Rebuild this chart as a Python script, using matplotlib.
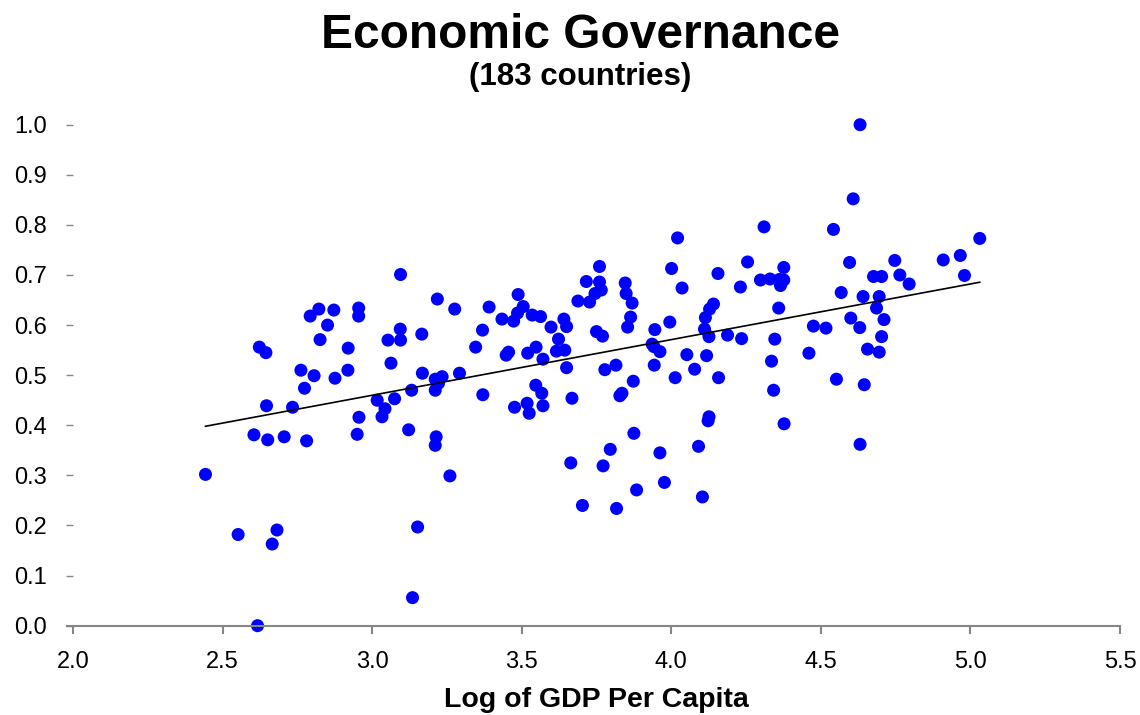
import numpy as np
import matplotlib
matplotlib.use("Agg")
import matplotlib.pyplot as plt

plt.rcParams['font.family'] = ['Liberation Sans', 'DejaVu Sans']

# Log of GDP per capita and economic governance score, one entry per country
log_gdp = [
    2.443, 2.552, 2.617, 2.682, 2.666, 2.822, 2.793, 2.872, 2.955, 2.955,
    2.851, 2.826, 2.623, 2.645, 2.920, 2.762, 2.806, 2.876, 2.919, 2.774,
    2.647, 2.734, 2.956, 2.605, 2.651, 2.706, 2.781, 2.950,
    3.095, 3.218, 3.276, 3.391, 3.488, 3.505, 3.486, 3.473, 3.434, 3.535,
    3.563, 3.598, 3.641, 3.094, 3.053, 3.095, 3.166, 3.369, 3.346, 3.448,
    3.456, 3.520, 3.548, 3.623, 3.616, 3.644, 3.571, 3.650, 3.063, 3.168,
    3.211, 3.234, 3.222, 3.211, 3.292, 3.132, 3.017, 3.075, 3.043, 3.033,
    3.370, 3.547, 3.567, 3.571, 3.476, 3.518, 3.525, 3.668, 3.122, 3.214,
    3.211, 3.260, 3.664, 3.152, 3.135,
    4.021, 3.760, 3.716, 3.760, 3.766, 3.745, 3.688, 3.727, 3.846, 3.849,
    3.869, 3.864, 3.854, 4.001, 4.036, 4.156, 4.255, 4.231, 4.141, 4.128,
    4.114, 4.111, 4.126, 4.188, 4.235, 3.650, 3.750, 3.770, 3.945, 3.995,
    3.936, 3.942, 3.962, 3.778, 3.815, 3.943, 4.052, 4.118, 4.078, 4.013,
    4.158, 3.873, 3.835, 3.828, 4.126, 4.123, 3.875,
    3.796, 3.772, 3.962, 4.091, 3.977, 3.884, 4.104, 3.703, 3.817,
    4.631, 4.608, 4.310, 4.542, 4.376, 4.596, 4.747, 4.909, 4.764, 4.676,
    4.703, 4.298, 4.330, 4.361, 4.376, 4.365, 4.795, 4.568, 4.641, 4.695,
    4.686, 4.359, 4.711, 4.600, 4.630, 4.475, 4.517, 4.703, 4.346, 4.656,
    4.695, 4.460, 4.335, 4.552, 4.645, 4.342, 4.377, 4.631,
    5.031, 4.966, 4.980,
]
governance = [
    0.302, 0.182, 0.000, 0.191, 0.163, 0.632, 0.618, 0.630, 0.634, 0.618,
    0.600, 0.571, 0.556, 0.545, 0.554, 0.510, 0.499, 0.494, 0.510, 0.474,
    0.439, 0.436, 0.416, 0.381, 0.371, 0.377, 0.369, 0.382,
    0.701, 0.652, 0.632, 0.636, 0.661, 0.637, 0.624, 0.608, 0.612, 0.620,
    0.617, 0.596, 0.612, 0.592, 0.570, 0.570, 0.582, 0.590, 0.556, 0.540,
    0.546, 0.544, 0.556, 0.572, 0.548, 0.550, 0.532, 0.515, 0.524, 0.504,
    0.492, 0.497, 0.484, 0.470, 0.504, 0.470, 0.450, 0.453, 0.433, 0.417,
    0.461, 0.480, 0.464, 0.439, 0.436, 0.444, 0.424, 0.454, 0.391, 0.377,
    0.360, 0.299, 0.325, 0.197, 0.056,
    0.774, 0.717, 0.687, 0.686, 0.670, 0.663, 0.648, 0.646, 0.684, 0.663,
    0.644, 0.616, 0.596, 0.713, 0.674, 0.703, 0.726, 0.676, 0.642, 0.632,
    0.615, 0.592, 0.577, 0.580, 0.573, 0.597, 0.587, 0.578, 0.591, 0.606,
    0.562, 0.557, 0.547, 0.511, 0.520, 0.520, 0.541, 0.539, 0.512, 0.495,
    0.495, 0.488, 0.464, 0.459, 0.417, 0.409, 0.384,
    0.352, 0.319, 0.345, 0.358, 0.286, 0.271, 0.257, 0.240, 0.234,
    1.000, 0.852, 0.796, 0.791, 0.715, 0.725, 0.729, 0.730, 0.700, 0.697,
    0.697, 0.690, 0.692, 0.691, 0.690, 0.679, 0.682, 0.665, 0.657, 0.657,
    0.634, 0.634, 0.611, 0.614, 0.595, 0.598, 0.594, 0.577, 0.572, 0.552,
    0.546, 0.544, 0.528, 0.492, 0.481, 0.470, 0.403, 0.362,
    0.773, 0.739, 0.699,
]

x_ticks = [2.0, 2.5, 3.0, 3.5, 4.0, 4.5, 5.0, 5.5]
y_ticks = [0.0, 0.1, 0.2, 0.3, 0.4, 0.5, 0.6, 0.7, 0.8, 0.9, 1.0]

x = np.array(log_gdp)
y = np.array(governance)

fig = plt.figure(figsize=(11.4, 7.15), dpi=100)
ax = fig.add_axes([0.064, 0.1249, 0.9185, 0.7007])

ax.scatter(x, y, s=88, color='#0000FF', edgecolors='none', zorder=2, clip_on=False)

# Least-squares linear trend across the observed range
slope, intercept = np.polyfit(x, y, 1)
xf = np.array([x.min(), x.max()])
ax.plot(xf, slope * xf + intercept, color='black', lw=1.2, zorder=3)

ax.set_xlim(2.0, 5.5)
ax.set_ylim(0.0, 1.0)
ax.set_xticks(x_ticks)
ax.set_yticks(y_ticks)
ax.set_xticklabels([f"{v:.1f}" for v in x_ticks], fontsize=17)
ax.set_yticklabels([f"{v:.1f}" for v in y_ticks], fontsize=17)

for s in ['top', 'right', 'left']:
    ax.spines[s].set_visible(False)
ax.spines['bottom'].set_color('#868686')
ax.spines['bottom'].set_linewidth(1.5)
ax.spines['bottom'].set_bounds(1.98, 5.5)
ax.tick_params(axis='x', direction='out', length=6, width=1.5, color='#868686', pad=12)
ax.tick_params(axis='y', direction='out', length=5, width=1.0, color='#868686', pad=14)

ax.set_xlabel("Log of GDP Per Capita", fontsize=20.5, fontweight='bold', labelpad=10)

fig.text(0.509, 0.950, "Economic Governance", ha='center', va='center',
         fontsize=34.5, fontweight='bold')
fig.text(0.509, 0.893, "(183 countries)", ha='center', va='center',
         fontsize=22.5, fontweight='bold')

fig.savefig("out.png", dpi=100)
